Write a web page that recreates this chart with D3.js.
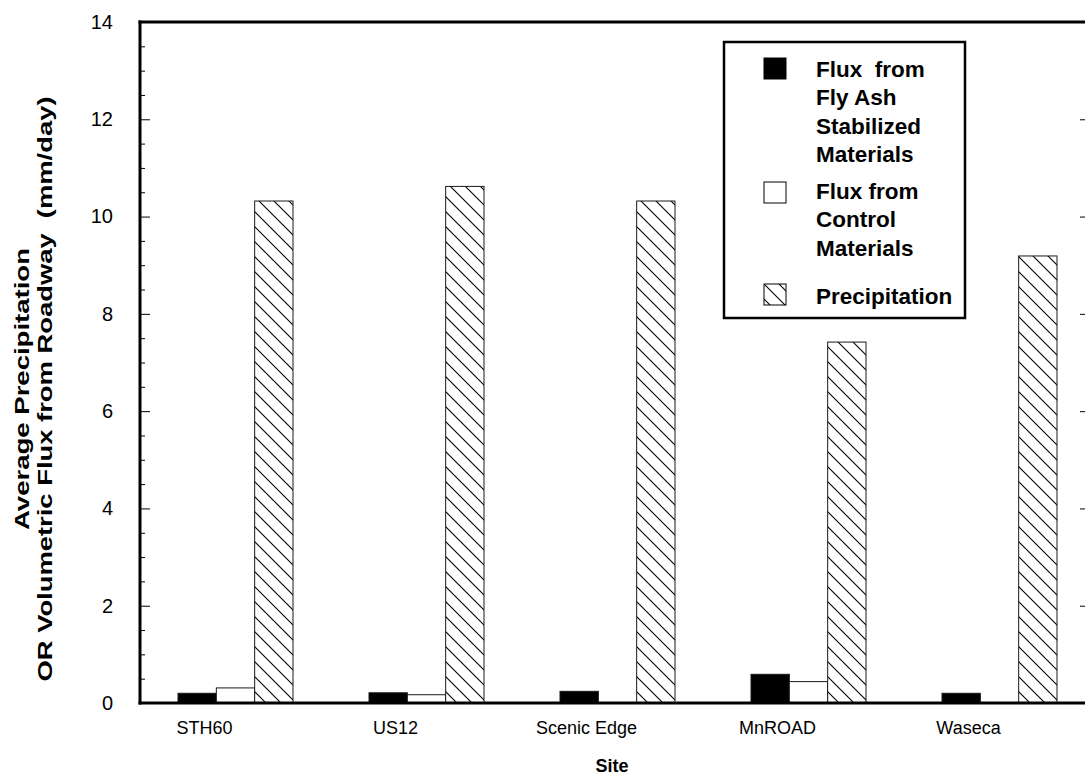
<!DOCTYPE html>
<html>
<head>
<meta charset="utf-8">
<script src="https://cdn.jsdelivr.net/npm/d3@7"></script>
<style>
  html, body { margin: 0; padding: 0; background: #fff; }
  svg { display: block; font-family: Arial, "Liberation Sans", Helvetica, sans-serif; }
</style>
</head>
<body>
<svg id="chart" width="1085" height="783"></svg>
<script>
// Sites along the x axis
const sites = ["STH60", "US12", "Scenic Edge", "MnROAD", "Waseca"];
// Average daily flux / precipitation (mm/day); null = no bar
const fluxFlyAsh   = [0.20, 0.21, 0.24, 0.59, 0.20];
const fluxControl  = [0.31, 0.17, null, 0.44, null];
const precipitation = [10.32, 10.62, 10.32, 7.42, 9.19];
// Y axis tick labels
const yTickValues = [0, 2, 4, 6, 8, 10, 12, 14];

const seriesNames = ["flyash", "control", "precip"];
const seriesValues = [fluxFlyAsh, fluxControl, precipitation];

(function () {
const svg = d3.select("#chart");
const W = 1085, H = 783;
const mLeft = 140, mTop = 22, mBottom = 703, mRight = 1090;

// Diagonal hatch for precipitation bars
const defs = svg.append("defs");
const pat = defs.append("pattern")
  .attr("id", "hatch")
  .attr("patternUnits", "userSpaceOnUse")
  .attr("width", 15).attr("height", 15);
pat.append("rect").attr("width", 15).attr("height", 15).attr("fill", "#fff");
pat.append("path")
  .attr("d", "M0,0 L15,15 M-2,13 L2,17 M13,-2 L17,2")
  .attr("stroke", "#000").attr("stroke-width", 1.1);

const y = d3.scaleLinear().domain([0, 14]).range([mBottom, mTop]);
const x0 = d3.scaleBand().domain(sites).range([mLeft, 1095]);
const x1 = d3.scaleBand().domain(seriesNames).range([0, 115]);

const fills = { flyash: "#000", control: "#fff", precip: "url(#hatch)" };

// Bars
const groups = svg.append("g").selectAll("g")
  .data(sites)
  .join("g")
  .attr("transform", d => `translate(${x0(d) + (x0.bandwidth() - 115) / 2},0)`);

groups.selectAll("rect")
  .data((d, i) => seriesNames.map((s, k) => ({ s, v: seriesValues[k][i] }))
    .filter(e => e.v !== null))
  .join("rect")
  .attr("x", e => x1(e.s))
  .attr("width", x1.bandwidth())
  .attr("y", e => y(e.v))
  .attr("height", e => y(0) - y(e.v))
  .attr("fill", e => fills[e.s])
  .attr("stroke", "#1a1a1a")
  .attr("stroke-width", 1);

// Left axis: major and minor ticks pointing inward
const yAxisL = svg.append("g").attr("transform", `translate(${mLeft},0)`);
yAxisL.call(d3.axisLeft(y).tickValues(d3.range(0, 14.01, 0.5)).tickSize(0).tickFormat(""));
yAxisL.select(".domain").remove();
yAxisL.selectAll(".tick line")
  .attr("x2", d => (d % 2 === 0 ? 10 : 5))
  .attr("stroke", "#000").attr("stroke-width", 1);

const yLabels = svg.append("g").attr("transform", `translate(${mLeft},0)`)
  .call(d3.axisLeft(y).tickValues(yTickValues).tickSize(0).tickPadding(27).tickFormat(d3.format("d")));
yLabels.select(".domain").remove();
yLabels.selectAll("text")
  .attr("font-size", 20).attr("font-family", "Arial, 'Liberation Sans', sans-serif")
  .attr("fill", "#000");

// Right axis ticks
const yAxisR = svg.append("g").attr("transform", `translate(${mRight},0)`);
yAxisR.call(d3.axisRight(y).tickValues(yTickValues).tickSize(0).tickFormat(""));
yAxisR.select(".domain").remove();
yAxisR.selectAll(".tick line").attr("x2", -10).attr("stroke", "#000");

// Frame
svg.append("line").attr("x1", mLeft).attr("x2", mLeft).attr("y1", mTop - 1.5).attr("y2", mBottom + 1.5)
  .attr("stroke", "#000").attr("stroke-width", 3);
svg.append("line").attr("x1", mLeft - 1.5).attr("x2", W).attr("y1", mBottom).attr("y2", mBottom)
  .attr("stroke", "#000").attr("stroke-width", 3);
svg.append("line").attr("x1", mLeft - 1.5).attr("x2", W).attr("y1", mTop).attr("y2", mTop)
  .attr("stroke", "#000").attr("stroke-width", 3);
svg.append("line").attr("x1", mRight).attr("x2", mRight).attr("y1", mTop).attr("y2", mBottom)
  .attr("stroke", "#000").attr("stroke-width", 3);

// X axis labels
const xAxis = svg.append("g").attr("transform", `translate(0,${mBottom})`)
  .call(d3.axisBottom(x0).tickSize(0).tickPadding(18));
xAxis.select(".domain").remove();
xAxis.selectAll(".tick").attr("transform", d => `translate(${x0(d) + x0.bandwidth() / 2 - 31},0)`);
xAxis.selectAll("text").attr("font-size", 18).attr("fill", "#000")
  .attr("font-family", "Arial, 'Liberation Sans', sans-serif");

// Axis titles
svg.append("text")
  .attr("x", 612).attr("y", 772)
  .attr("text-anchor", "middle").attr("font-weight", "bold").attr("font-size", 18)
  .text("Site");

const yt = svg.append("text")
  .attr("transform", "translate(0,389) rotate(-90)")
  .attr("text-anchor", "middle").attr("font-weight", "bold").attr("font-size", 21);
yt.append("tspan").attr("x", 0).attr("y", 29)
  .attr("textLength", 282).attr("lengthAdjust", "spacingAndGlyphs")
  .text("Average Precipitation");
yt.append("tspan").attr("x", 0).attr("y", 52).attr("xml:space", "preserve")
  .attr("textLength", 585).attr("lengthAdjust", "spacingAndGlyphs")
  .text("OR Volumetric Flux from Roadway  (mm/day)");

// Legend
const lg = svg.append("g");
lg.append("rect").attr("x", 724).attr("y", 42).attr("width", 241).attr("height", 276)
  .attr("fill", "#fff").attr("stroke", "#000").attr("stroke-width", 2.5);

const legendItems = [
  { s: "flyash", y0: 58, lines: ["Flux  from", "Fly Ash", "Stabilized", "Materials"], base: 77 },
  { s: "control", y0: 182, lines: ["Flux from", "Control", "Materials"], base: 199 },
  { s: "precip", y0: 284, lines: ["Precipitation"], base: 304 }
];
legendItems.forEach(it => {
  lg.append("rect").attr("x", 764).attr("y", it.y0).attr("width", 22).attr("height", 21)
    .attr("fill", fills[it.s]).attr("stroke", "#000").attr("stroke-width", 1);
  const t = lg.append("text").attr("font-weight", "bold").attr("font-size", 22.5)
    .attr("xml:space", "preserve");
  it.lines.forEach((ln, i) => {
    t.append("tspan").attr("x", 816).attr("y", it.base + i * 28.3).text(ln);
  });
});
})();
</script>
</body>
</html>
